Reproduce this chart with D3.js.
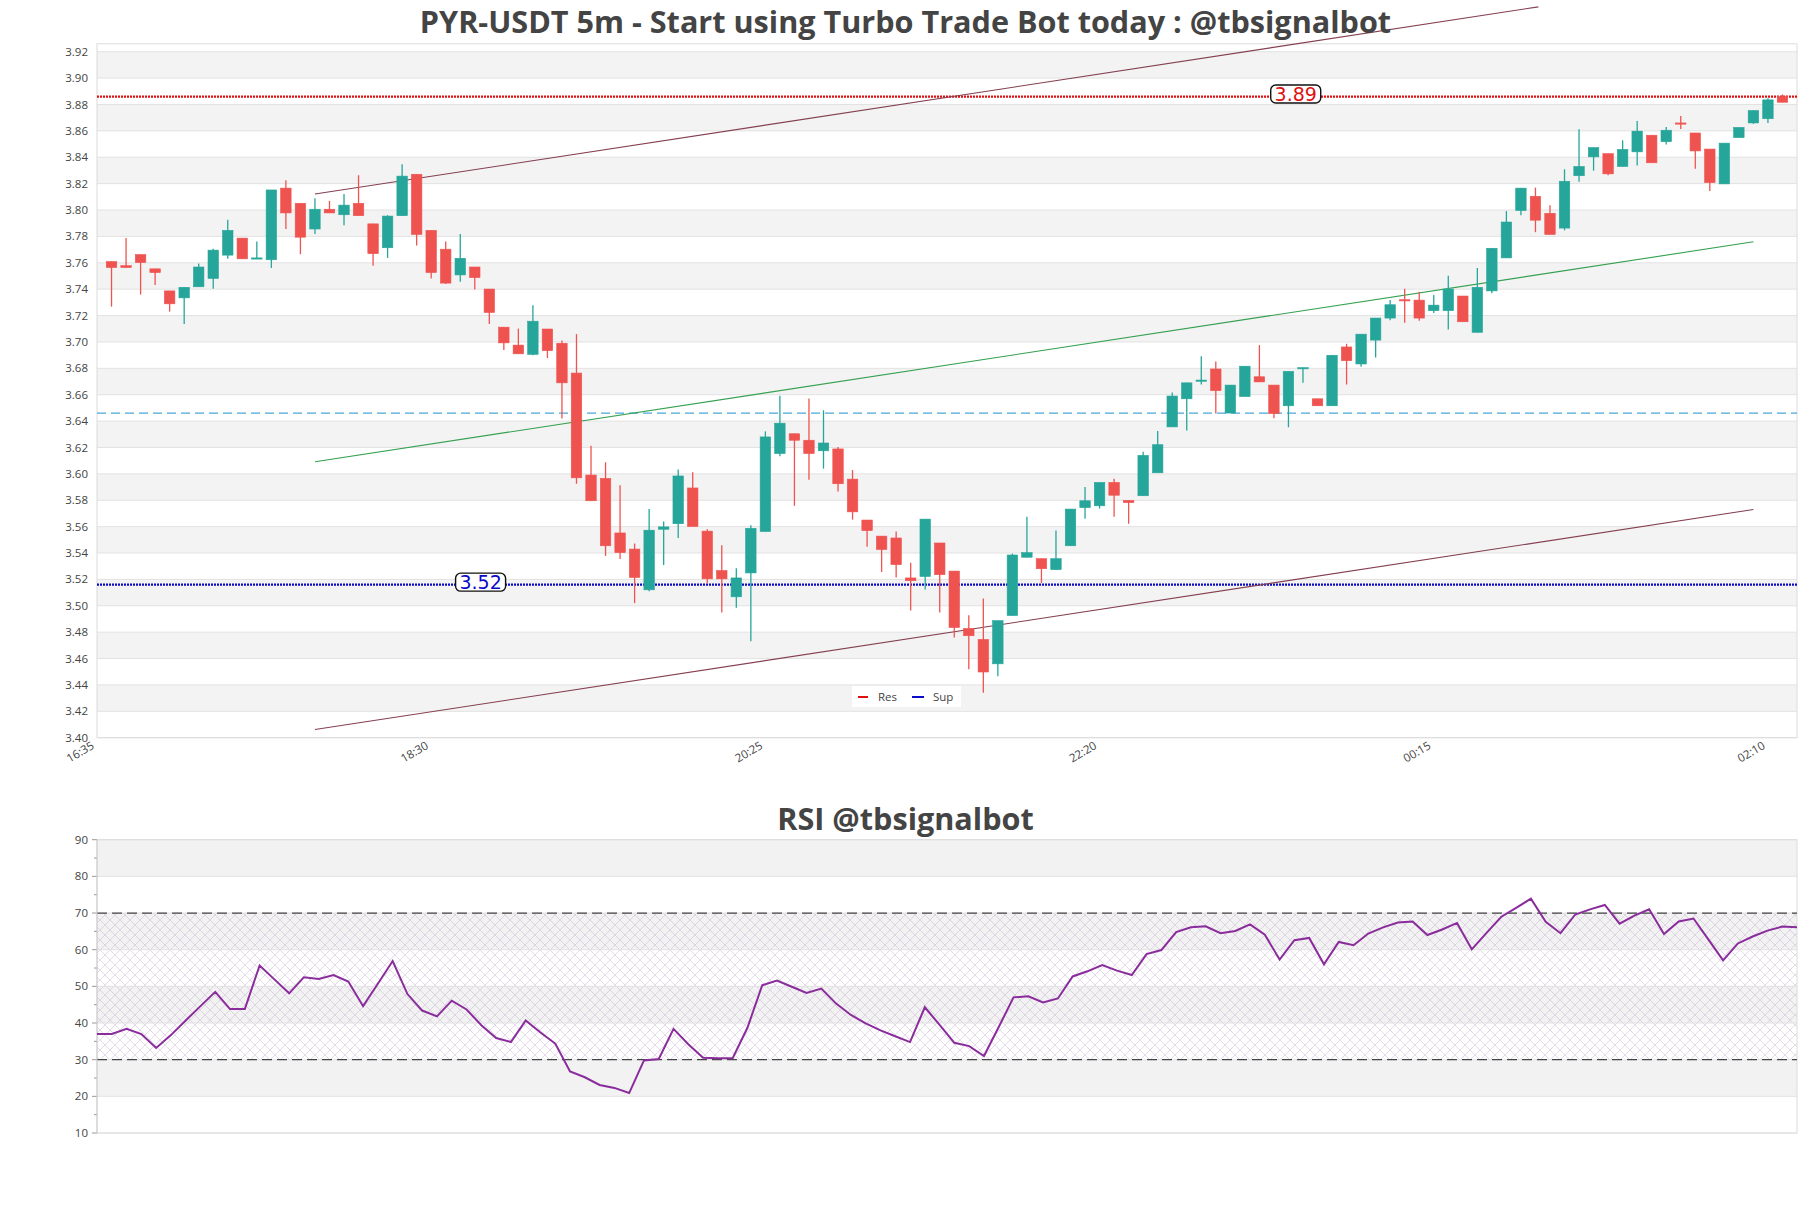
<!DOCTYPE html>
<html>
<head>
<meta charset="utf-8">
<script src="https://d3js.org/d3.v7.min.js"></script>
<style>
body { margin: 0; background: #fff; }
text { font-family: "Open Sans", sans-serif; }
</style>
</head>
<body>
<div id="my_dataviz"></div>
<script>
// candles, one per 5 minutes starting 16:40
var openP = [3.7609, 3.7578, 3.7662, 3.7554, 3.7387, 3.7334, 3.7418, 3.7481, 3.7658, 3.7787,
    3.7634, 3.7623, 3.8166, 3.8051, 3.7856, 3.8006, 3.7964, 3.8051, 3.7895, 3.7714,
    3.7957, 3.8271, 3.7846, 3.7703, 3.7508, 3.7568, 3.7401, 3.7112, 3.6976, 3.6906,
    3.7098, 3.6990, 3.6764, 3.5991, 3.5966, 3.5552, 3.5430, 3.5121, 3.5580, 3.5622,
    3.5893, 3.5566, 3.5267, 3.5068, 3.5249, 3.5563, 3.6154, 3.6304, 3.6255, 3.6175,
    3.6189, 3.5960, 3.5650, 3.5528, 3.5514, 3.5211, 3.5222, 3.5476, 3.5263, 3.4828,
    3.4745, 3.4560, 3.4926, 3.5368, 3.5357, 3.5274, 3.5455, 3.5744, 3.5758, 3.5935,
    3.5799, 3.5834, 3.6008, 3.6356, 3.6569, 3.6704, 3.6795, 3.6461, 3.6586, 3.6736,
    3.6673, 3.6516, 3.6802, 3.6569, 3.6516, 3.6962, 3.6833, 3.7014, 3.7181, 3.7320,
    3.7317, 3.7237, 3.7237, 3.7348, 3.7073, 3.7387, 3.7637, 3.7996, 3.8104, 3.7975,
    3.7863, 3.8260, 3.8403, 3.8427, 3.8330, 3.8441, 3.8567, 3.8518, 3.8660, 3.8584,
    3.8462, 3.8198, 3.8549, 3.8660, 3.8692, 3.8859];
var highP = [3.7609, 3.7787, 3.7662, 3.7554, 3.7387, 3.7414, 3.7595, 3.7707, 3.7926, 3.7787,
    3.7762, 3.8152, 3.8225, 3.8051, 3.8090, 3.8069, 3.8121, 3.8264, 3.7895, 3.7961,
    3.8347, 3.8271, 3.7846, 3.7762, 3.7818, 3.7568, 3.7401, 3.7112, 3.7101, 3.7279,
    3.7098, 3.7011, 3.7059, 3.6214, 3.6088, 3.5914, 3.5472, 3.5733, 3.5639, 3.6033,
    3.6012, 3.5580, 3.5458, 3.5284, 3.5611, 3.6322, 3.6593, 3.6304, 3.6572, 3.6482,
    3.6203, 3.6029, 3.5650, 3.5528, 3.5563, 3.5326, 3.5657, 3.5476, 3.5263, 3.4929,
    3.5055, 3.4887, 3.5396, 3.5674, 3.5357, 3.5570, 3.5733, 3.5900, 3.5935, 3.5963,
    3.5799, 3.6168, 3.6325, 3.6617, 3.6690, 3.6892, 3.6851, 3.6673, 3.6816, 3.6976,
    3.6673, 3.6777, 3.6805, 3.6569, 3.6899, 3.6986, 3.7059, 3.7181, 3.7317, 3.7404,
    3.7380, 3.7355, 3.7501, 3.7348, 3.7561, 3.7710, 3.7992, 3.8166, 3.8170, 3.8037,
    3.8309, 3.8612, 3.8473, 3.8427, 3.8528, 3.8674, 3.8567, 3.8629, 3.8713, 3.8584,
    3.8462, 3.8507, 3.8626, 3.8754, 3.8848, 3.8876];
var lowP = [3.7268, 3.7564, 3.7359, 3.7432, 3.7230, 3.7136, 3.7418, 3.7404, 3.7630, 3.7630,
    3.7634, 3.7561, 3.7856, 3.7665, 3.7818, 3.7978, 3.7884, 3.7957, 3.7578, 3.7637,
    3.7957, 3.7731, 3.7481, 3.7439, 3.7456, 3.7397, 3.7136, 3.6938, 3.6910, 3.6899,
    3.6878, 3.6419, 3.5925, 3.5796, 3.5378, 3.5354, 3.5020, 3.5110, 3.5309, 3.5514,
    3.5601, 3.5169, 3.4950, 3.4985, 3.4731, 3.5563, 3.6134, 3.5758, 3.5956, 3.6040,
    3.5866, 3.5653, 3.5448, 3.5256, 3.5215, 3.4964, 3.5124, 3.4950, 3.4759, 3.4519,
    3.4341, 3.4466, 3.4926, 3.5368, 3.5173, 3.5274, 3.5455, 3.5660, 3.5737, 3.5674,
    3.5622, 3.5834, 3.6008, 3.6356, 3.6328, 3.6677, 3.6457, 3.6461, 3.6586, 3.6697,
    3.6422, 3.6353, 3.6690, 3.6516, 3.6516, 3.6677, 3.6812, 3.6882, 3.7164, 3.7146,
    3.7160, 3.7220, 3.7094, 3.7153, 3.7073, 3.7369, 3.7637, 3.7961, 3.7832, 3.7815,
    3.7846, 3.8215, 3.8298, 3.8264, 3.8330, 3.8337, 3.8358, 3.8497, 3.8615, 3.8312,
    3.8145, 3.8198, 3.8549, 3.8653, 3.8660, 3.8817];
var closeP = [3.7564, 3.7564, 3.7602, 3.7526, 3.7289, 3.7414, 3.7568, 3.7696, 3.7846, 3.7630,
    3.7637, 3.8152, 3.7978, 3.7794, 3.8006, 3.7978, 3.8037, 3.7957, 3.7669, 3.7954,
    3.8257, 3.7815, 3.7526, 3.7446, 3.7634, 3.7488, 3.7223, 3.6993, 3.6910, 3.7157,
    3.6934, 3.6690, 3.5970, 3.5796, 3.5455, 3.5403, 3.5215, 3.5573, 3.5598, 3.5984,
    3.5601, 3.5204, 3.5204, 3.5211, 3.5587, 3.6280, 3.6384, 3.6255, 3.6154, 3.6234,
    3.5925, 3.5712, 3.5570, 3.5427, 3.5312, 3.5190, 3.5657, 3.5236, 3.4835, 3.4773,
    3.4498, 3.4887, 3.5385, 3.5403, 3.5281, 3.5357, 3.5733, 3.5796, 3.5935, 3.5838,
    3.5782, 3.6140, 3.6221, 3.6590, 3.6690, 3.6711, 3.6631, 3.6673, 3.6816, 3.6697,
    3.6457, 3.6777, 3.6805, 3.6516, 3.6899, 3.6858, 3.7059, 3.7181, 3.7282, 3.7313,
    3.7181, 3.7279, 3.7401, 3.7153, 3.7414, 3.7710, 3.7909, 3.8166, 3.7923, 3.7815,
    3.8218, 3.8330, 3.8473, 3.8274, 3.8459, 3.8598, 3.8358, 3.8605, 3.8653, 3.8448,
    3.8208, 3.8507, 3.8626, 3.8754, 3.8835, 3.8817];

var rsiValues = [37.0, 37.0, 38.4, 37.0, 33.2, 36.7, 40.7, 44.6, 48.5, 43.8,
    43.8, 55.7, 51.9, 48.1, 52.5, 52.0, 53.1, 51.3, 44.6, 50.7,
    56.9, 47.9, 43.4, 41.8, 46.1, 43.7, 39.4, 35.9, 34.8, 40.7,
    37.4, 34.4, 26.8, 25.2, 23.1, 22.3, 20.9, 29.8, 30.2, 38.4,
    34.2, 30.5, 30.4, 30.4, 38.7, 50.3, 51.6, 49.9, 48.2, 49.4,
    45.3, 42.2, 39.9, 38.0, 36.4, 34.8, 44.3, 39.5, 34.6, 33.7,
    31.0, 38.9, 47.0, 47.3, 45.6, 46.7, 52.7, 54.1, 55.8, 54.3,
    53.1, 58.8, 59.9, 64.8, 66.1, 66.4, 64.5, 65.1, 66.9, 64.1,
    57.3, 62.6, 63.2, 56.0, 62.1, 61.2, 64.4, 66.1, 67.4, 67.7,
    64.0, 65.5, 67.3, 60.1, 64.6, 69.0, 71.4, 73.9, 67.6, 64.5,
    69.6, 71.0, 72.2, 67.1, 69.3, 71.0, 64.3, 67.7, 68.5, 62.8,
    57.1, 61.7, 63.6, 65.2, 66.3, 66.1];

// x ticks (candle index, -1 = 16:35)
var xTickIdx = [-1, 22, 45, 68, 91, 114];
var xTickLabels = ["16:35", "18:30", "20:25", "22:20", "00:15", "02:10"];

var resLevel = 3.886;
var supLevel = 3.516;
var midLevel = 3.646;
var resLabelIdx = 81.5;
var supLabelIdx = 25.4;

// trend lines [index, price]
var channelUpper = [[14, 3.8121], [98.2, 3.9540]];
var channelMid = [[14, 3.6092], [113, 3.7759]];
var channelLower = [[14, 3.4062], [113, 3.5730]];

var W = 1811, H = 1208;
var svg = d3.select("#my_dataviz")
    .append("svg")
    .attr("width", W)
    .attr("height", H)
    .style("background", "#fff");

var defs = svg.append("defs");
var pat = defs.append("pattern")
    .attr("id", "hatch")
    .attr("patternUnits", "userSpaceOnUse")
    .attr("width", 10)
    .attr("height", 10);
pat.append("path").attr("d", "M0,0 L10,10 M10,0 L0,10")
    .attr("stroke", "#c8b4d2").attr("stroke-width", 0.6).attr("opacity", 0.8);

// ---------- main chart ----------
var pLeft = 97, pRight = 1797, pTop = 43.8, pBottom = 737.7;

var x = d3.scaleLinear().domain([-1, 116]).range([pLeft, pRight]);
var y = d3.scaleLinear().domain([3.40, 3.926]).range([pBottom, pTop]);

var gridVals = d3.range(3.40, 3.9201, 0.02).map(function (v) { return +v.toFixed(2); });

// bands
svg.selectAll("mainBands")
    .data(gridVals.filter(function (v, i) { return i % 2 == 1 && v < 3.92; }))
    .enter()
    .append("rect")
    .attr("x", pLeft)
    .attr("width", pRight - pLeft)
    .attr("y", function (d) { return y(d + 0.02); })
    .attr("height", function (d) { return y(d) - y(d + 0.02); })
    .attr("fill", "#f3f3f3");

svg.selectAll("mainGrid")
    .data(gridVals)
    .enter()
    .append("line")
    .attr("x1", pLeft).attr("x2", pRight)
    .attr("y1", function (d) { return y(d); })
    .attr("y2", function (d) { return y(d); })
    .attr("stroke", "#e2e2e2")
    .attr("stroke-width", 1);

svg.append("rect")
    .attr("x", pLeft).attr("y", pTop)
    .attr("width", pRight - pLeft).attr("height", pBottom - pTop)
    .attr("fill", "none").attr("stroke", "#dcdcdc");

// y labels
svg.selectAll("yLabels")
    .data(gridVals)
    .enter()
    .append("text")
    .attr("x", 88)
    .attr("y", function (d) { return y(d); })
    .attr("dy", "0.35em")
    .attr("text-anchor", "end")
    .style("font-size", "11.5px")
    .style("fill", "#444")
    .text(function (d) { return d.toFixed(2); });

// x labels
svg.selectAll("xLabels")
    .data(xTickIdx)
    .enter()
    .append("text")
    .attr("transform", function (d) { return "translate(" + (x(d) - 2) + "," + 748 + ") rotate(-30)"; })
    .attr("text-anchor", "end")
    .style("font-size", "11.5px")
    .style("fill", "#444")
    .text(function (d, i) { return xTickLabels[i]; });

// horizontal levels
svg.append("line")
    .attr("x1", pLeft).attr("x2", pRight)
    .attr("y1", y(midLevel)).attr("y2", y(midLevel))
    .attr("stroke", "#4aa8d8").attr("stroke-width", 1.2)
    .attr("stroke-dasharray", "9,5");
svg.append("line")
    .attr("x1", pLeft).attr("x2", pRight)
    .attr("y1", y(resLevel)).attr("y2", y(resLevel))
    .attr("stroke", "#e01010").attr("stroke-width", 2.2)
    .attr("stroke-dasharray", "2,1");
svg.append("line")
    .attr("x1", pLeft).attr("x2", pRight)
    .attr("y1", y(supLevel)).attr("y2", y(supLevel))
    .attr("stroke", "#0a0ac8").attr("stroke-width", 2.2)
    .attr("stroke-dasharray", "2,1");

// trend lines
var trend = d3.line()
    .x(function (d) { return x(d[0]); })
    .y(function (d) { return y(d[1]); });
svg.append("path").attr("d", trend(channelUpper))
    .attr("fill", "none").attr("stroke", "#844050").attr("stroke-width", 1.1);
svg.append("path").attr("d", trend(channelLower))
    .attr("fill", "none").attr("stroke", "#844050").attr("stroke-width", 1.1);
svg.append("path").attr("d", trend(channelMid))
    .attr("fill", "none").attr("stroke", "#35a050").attr("stroke-width", 1.1);

// candles
var candles = openP.map(function (o, i) {
    return { i: i, o: o, h: highP[i], l: lowP[i], c: closeP[i] };
});
var upCol = "#26a69a", downCol = "#ef5350";
var bodyW = (x(1) - x(0)) * 0.72;

var cg = svg.selectAll("candles")
    .data(candles)
    .enter()
    .append("g");
cg.append("line")
    .attr("x1", function (d) { return x(d.i); })
    .attr("x2", function (d) { return x(d.i); })
    .attr("y1", function (d) { return y(d.h); })
    .attr("y2", function (d) { return y(d.l); })
    .attr("stroke", function (d) { return d.c >= d.o ? upCol : downCol; })
    .attr("stroke-width", 1.3);
cg.append("rect")
    .attr("x", function (d) { return x(d.i) - bodyW / 2; })
    .attr("width", bodyW)
    .attr("y", function (d) { return y(Math.max(d.o, d.c)); })
    .attr("height", function (d) { return Math.max(1.2, Math.abs(y(d.o) - y(d.c))); })
    .attr("fill", function (d) { return d.c >= d.o ? upCol : downCol; })
    .attr("stroke", function (d) { return d.c >= d.o ? upCol : downCol; })
    .attr("stroke-width", 0.6);

// level labels
function levelLabel(idx, val, txt, col) {
    var g = svg.append("g").attr("transform", "translate(" + x(idx) + "," + (y(val) - 2.5) + ")");
    g.append("rect")
        .attr("x", -25).attr("y", -9)
        .attr("width", 50).attr("height", 18)
        .attr("rx", 5)
        .attr("fill", "#fff").attr("stroke", "#111").attr("stroke-width", 1.4);
    g.append("text")
        .attr("text-anchor", "middle")
        .attr("dy", "0.36em")
        .style("font-size", "19px")
        .style("font-family", "DejaVu Sans")
        .style("fill", col)
        .text(txt);
}
levelLabel(resLabelIdx, resLevel, "3.89", "#e01010");
levelLabel(supLabelIdx, supLevel, "3.52", "#0a0ac8");

// legend
var lg = svg.append("g").attr("transform", "translate(852,686)");
lg.append("rect").attr("width", 109).attr("height", 21).attr("fill", "#fff");
lg.append("line").attr("x1", 6).attr("x2", 16).attr("y1", 11).attr("y2", 11)
    .attr("stroke", "#e01010").attr("stroke-width", 2);
lg.append("text").attr("x", 26).attr("y", 15).style("font-size", "11.5px").style("fill", "#444").text("Res");
lg.append("line").attr("x1", 60).attr("x2", 72).attr("y1", 11).attr("y2", 11)
    .attr("stroke", "#0a0ac8").attr("stroke-width", 2);
lg.append("text").attr("x", 81).attr("y", 15).style("font-size", "11.5px").style("fill", "#444").text("Sup");

// title
svg.append("text")
    .attr("x", W / 2).attr("y", 33)
    .attr("text-anchor", "middle")
    .style("font-size", "30.6px")
    .style("font-weight", "bold")
    .style("fill", "#444")
    .text("PYR-USDT 5m - Start using Turbo Trade Bot today : @tbsignalbot");

// ---------- RSI ----------
var rTop = 839.7, rBottom = 1133;
var xr = d3.scaleLinear().domain([0, rsiValues.length - 1]).range([pLeft, pRight]);
var yr = d3.scaleLinear().domain([10, 90]).range([rBottom, rTop]);

svg.selectAll("rsiBands")
    .data([20, 40, 60, 80])
    .enter()
    .append("rect")
    .attr("x", pLeft).attr("width", pRight - pLeft)
    .attr("y", function (d) { return yr(d + 10); })
    .attr("height", function (d) { return yr(d) - yr(d + 10); })
    .attr("fill", "#f2f2f2");

svg.append("rect")
    .attr("x", pLeft).attr("width", pRight - pLeft)
    .attr("y", yr(70)).attr("height", yr(30) - yr(70))
    .attr("fill", "url(#hatch)");

svg.selectAll("rsiGrid")
    .data(d3.range(10, 91, 10))
    .enter()
    .append("line")
    .attr("x1", pLeft).attr("x2", pRight)
    .attr("y1", function (d) { return yr(d); })
    .attr("y2", function (d) { return yr(d); })
    .attr("stroke", "#e2e2e2");

svg.append("rect")
    .attr("x", pLeft).attr("y", rTop)
    .attr("width", pRight - pLeft).attr("height", rBottom - rTop)
    .attr("fill", "none").attr("stroke", "#dcdcdc");

svg.selectAll("rsiLevels")
    .data([30, 70])
    .enter()
    .append("line")
    .attr("x1", pLeft).attr("x2", pRight)
    .attr("y1", function (d) { return yr(d); })
    .attr("y2", function (d) { return yr(d); })
    .attr("stroke", "#444").attr("stroke-width", 1.2)
    .attr("stroke-dasharray", "10,5");

// y axis ticks
svg.selectAll("rsiTicks")
    .data(d3.range(10, 91, 5))
    .enter()
    .append("line")
    .attr("x1", function (d) { return d % 10 == 0 ? 92 : 94; })
    .attr("x2", pLeft)
    .attr("y1", function (d) { return yr(d); })
    .attr("y2", function (d) { return yr(d); })
    .attr("stroke", "#999");
svg.append("line").attr("x1", pLeft).attr("x2", pLeft).attr("y1", rTop).attr("y2", rBottom).attr("stroke", "#ccc");

svg.selectAll("rsiLabels")
    .data(d3.range(10, 91, 10))
    .enter()
    .append("text")
    .attr("x", 88)
    .attr("y", function (d) { return yr(d); })
    .attr("dy", "0.35em")
    .attr("text-anchor", "end")
    .style("font-size", "11.5px")
    .style("fill", "#444")
    .text(function (d) { return d; });

var rsiLine = d3.line()
    .x(function (d, i) { return xr(i); })
    .y(function (d) { return yr(d); });
svg.append("path")
    .attr("d", rsiLine(rsiValues))
    .attr("fill", "none")
    .attr("stroke", "#8a2c9c")
    .attr("stroke-width", 2);

svg.append("text")
    .attr("x", W / 2).attr("y", 830)
    .attr("text-anchor", "middle")
    .style("font-size", "30.6px")
    .style("font-weight", "bold")
    .style("fill", "#444")
    .text("RSI @tbsignalbot");
</script>
</body>
</html>
